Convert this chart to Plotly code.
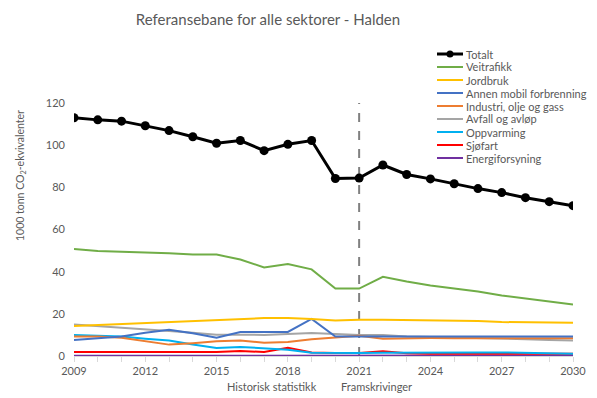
import plotly.graph_objects as go

years = list(range(2009, 2031))

totalt = [113, 112, 111.4, 109.2, 106.9, 104, 100.9, 102.2, 97.4, 100.4, 102.2, 84.2, 84.4,
          90.6, 86.1, 84, 81.7, 79.4, 77.5, 75.1, 73.2, 71.3]
veitrafikk = [50.8, 49.8, 49.5, 49.2, 48.7, 48.2, 48.1, 45.8, 42, 43.6, 41.1, 32, 32,
              37.6, 35.3, 33.4, 32, 30.6, 28.7, 27.2, 25.8, 24.4]
jordbruk = [14.2, 14.7, 15.2, 15.7, 16.2, 16.7, 17.2, 17.6, 18, 18, 17.6, 16.8, 17.2,
            17.2, 17.1, 16.8, 16.7, 16.6, 16.1, 16.1, 16.1, 15.8]
annen_mobil = [7.6, 8.5, 9.3, 11, 12.5, 10.8, 8.7, 11.4, 11.4, 11.4, 17.6, 9.2, 9.2,
               9.2, 9.2, 9.2, 9.2, 9.2, 9.2, 9.2, 9.2, 9.2]
industri = [9.2, 9.2, 8.7, 7, 5.4, 6.1, 7, 7.3, 6.3, 6.6, 7.9, 8.8, 9.6,
            8.2, 8.5, 8.5, 8.4, 8.4, 8.4, 8.4, 8.4, 8.4]
avfall = [14.9, 14.2, 13.6, 12.8, 11.9, 11, 10.1, 10.1, 10, 10.4, 10.9, 10.4, 10,
          10, 9.3, 9, 8.8, 8.7, 8.4, 8, 7.6, 7.3]
oppvarming = [10, 9.5, 9.2, 8.2, 7.3, 5.5, 3.8, 4.3, 3.5, 3, 1.6, 1.4, 1.4,
              1.6, 1.7, 1.7, 1.7, 1.7, 1.7, 1.6, 1.3, 1.1]
sjofart = [1.9, 1.9, 1.9, 1.9, 1.9, 1.9, 1.9, 2.4, 1.9, 3.9, 1.7, 1.4, 1.4,
           2.2, 1.3, 1.1, 1.1, 1.1, 1.1, 1.1, 1.1, 1.1]
energi = [0.1, 0.1, 0.1, 0.1, 0.1, 0.3, 0.3, 0.3, 0.3, 0.3, 0.3, 0.2, 0.2,
          0.2, 0.2, 0.2, 0.2, 0.2, 0.2, 0.2, 0.2, 0.2]

series = [
    ("Totalt", totalt, "#000000"),
    ("Veitrafikk", veitrafikk, "#70AD47"),
    ("Jordbruk", jordbruk, "#FFC000"),
    ("Annen mobil forbrenning", annen_mobil, "#4472C4"),
    ("Industri, olje og gass", industri, "#ED7D31"),
    ("Avfall og avløp", avfall, "#A5A5A5"),
    ("Oppvarming", oppvarming, "#00B0F0"),
    ("Sjøfart", sjofart, "#FF0000"),
    ("Energiforsyning", energi, "#7030A0"),
]

split_year = 2021
split_range = [0, 120]
tick_years = [2009, 2012, 2015, 2018, 2021, 2024, 2027, 2030]

FONT = "Lato"
GREY = "#595959"

# the page body has an 8px margin; lay out in figure pixels
OFF = 8
FW, FH = 597 - OFF, 398 - OFF

fig = go.Figure()

fig.add_trace(go.Scatter(x=[split_year, split_year], y=split_range, mode="lines",
                         line=dict(color="#808080", width=2, dash="dash"),
                         showlegend=False, hoverinfo="skip"))

for name, vals, col in reversed(series):
    if name == "Totalt":
        fig.add_trace(go.Scatter(x=years, y=vals, name=name, mode="lines+markers",
                                 line=dict(color=col, width=3),
                                 marker=dict(size=9, color=col), showlegend=False))
    else:
        fig.add_trace(go.Scatter(x=years, y=vals, name=name, mode="lines",
                                 line=dict(color=col, width=2), showlegend=False))

L, R, T, B = 74 - OFF, 573 - OFF, 103 - OFF, 356 - OFF
W, H = R - L, B - T

def px_x(p):
    return (p - OFF - L) / W

def px_y(p):
    return (B - (p - OFF)) / H

shapes = []
annotations = []
for i, (name, vals, col) in enumerate(series):
    yy = 54 + i * 13
    shapes.append(dict(type="line", xref="paper", yref="paper",
                       x0=px_x(437), x1=px_x(463), y0=px_y(yy), y1=px_y(yy),
                       line=dict(color=col, width=3 if name == "Totalt" else 2)))
    if name == "Totalt":
        shapes.append(dict(type="circle", xref="paper", yref="paper",
                           x0=px_x(446.5), x1=px_x(453.5), y0=px_y(yy + 3.5), y1=px_y(yy - 3.5),
                           fillcolor=col, line=dict(color=col, width=0)))
    annotations.append(dict(text=name, xref="paper", yref="paper",
                            x=px_x(464), y=px_y(yy), xanchor="left", yanchor="middle",
                            showarrow=False, font=dict(family=FONT, size=11, color=GREY)))

annotations.append(dict(text="Historisk statistikk", xref="x", yref="paper",
                        x=split_year, xshift=-40, y=px_y(386), xanchor="right", yanchor="middle",
                        showarrow=False, font=dict(family=FONT, size=11, color=GREY)))
annotations.append(dict(text="Framskrivinger", xref="x", yref="paper",
                        x=split_year, xshift=-20, y=px_y(386), xanchor="left", yanchor="middle",
                        showarrow=False, font=dict(family=FONT, size=11, color=GREY)))
annotations.append(dict(text="1000 tonn CO<sub>2</sub>-ekvivalenter", xref="paper", yref="paper",
                        x=px_x(21), y=px_y(176), xanchor="center", yanchor="middle",
                        textangle=-90, showarrow=False,
                        font=dict(family=FONT, size=10.5, color=GREY)))

fig.update_layout(
    width=FW, height=FH,
    margin=dict(l=L, r=FW - R, t=T, b=FH - B),
    paper_bgcolor="white", plot_bgcolor="white",
    font=dict(family=FONT, size=11, color=GREY),
    title=dict(text="Referansebane for alle sektorer - Halden", x=(268 - OFF) / FW, xanchor="center",
               y=1 - (20 - OFF) / FH, yanchor="middle", yref="container",
               font=dict(family=FONT, size=15, color=GREY)),
    shapes=shapes, annotations=annotations, showlegend=False,
    xaxis=dict(range=[2009, 2030], tickvals=tick_years, ticktext=[str(y) for y in tick_years],
               showgrid=False, zeroline=False, showline=True, linecolor="#D9D9D9", linewidth=1,
               ticks="outside", ticklen=5, tickcolor="#D9D9D9",
               minor=dict(dtick=1, tick0=2009, ticks="outside", ticklen=5, tickcolor="#D9D9D9",
                          showgrid=False),
               tickfont=dict(family=FONT, size=11, color=GREY)),
    yaxis=dict(range=[0, 120], dtick=20, showgrid=False, zeroline=False, showline=False,
               ticks="", ticklabelstandoff=8,
               tickfont=dict(family=FONT, size=11, color=GREY)),
)

fig.write_html("out.html")
